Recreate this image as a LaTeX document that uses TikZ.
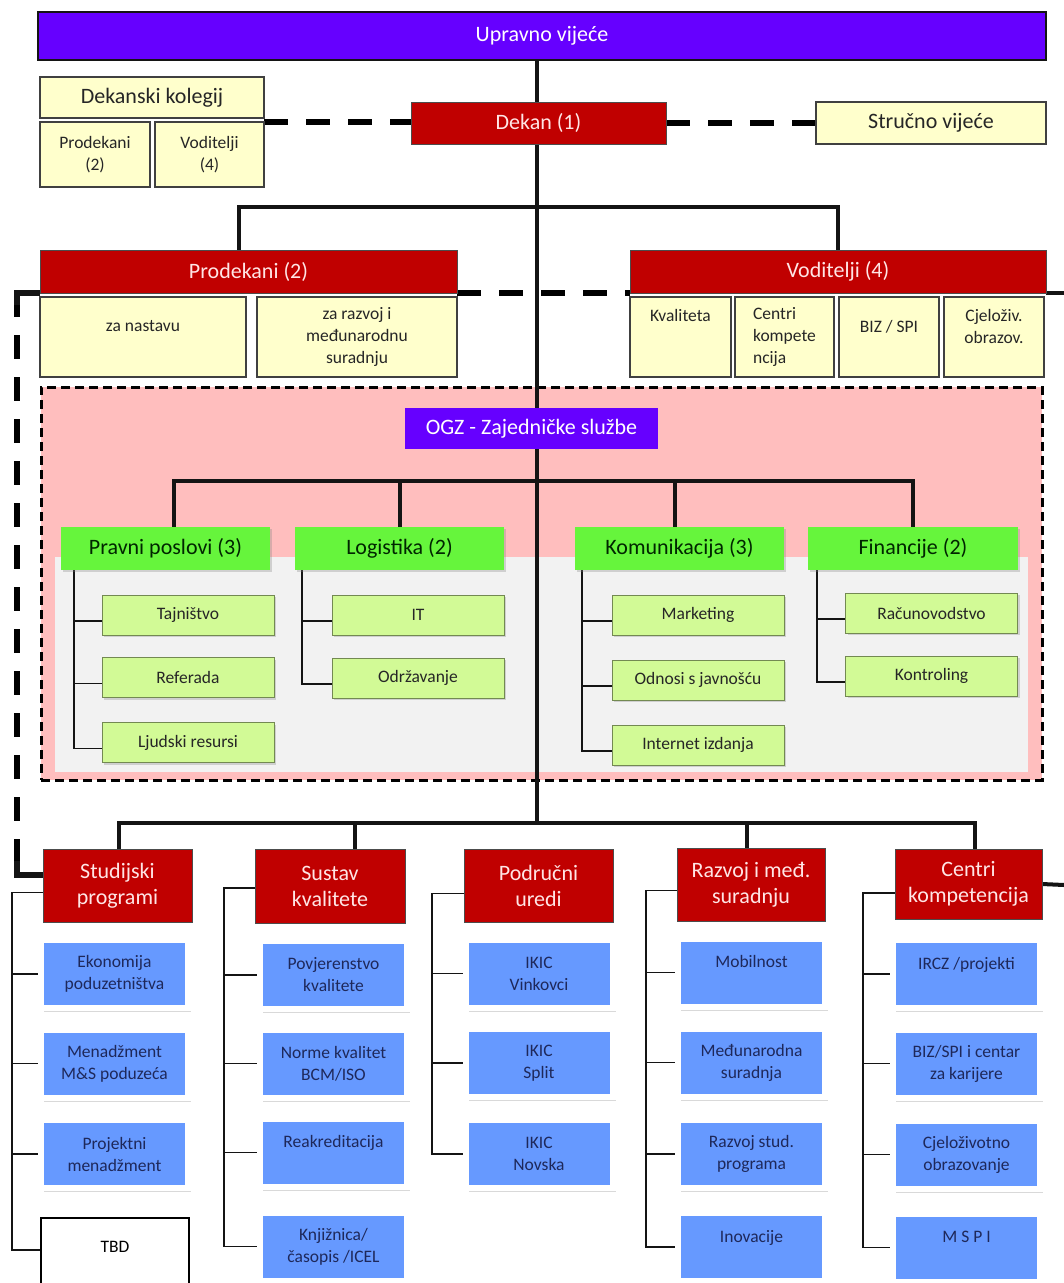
\documentclass[tikz,border=0pt]{standalone}
\usepackage{fontspec}
\setmainfont{Carlito}
\usetikzlibrary{positioning, shadows}
\definecolor{boardviolet}{RGB}{102, 0, 255}
\definecolor{deanred}{RGB}{192, 0, 0}
\definecolor{paleyellow}{RGB}{255, 255, 204}
\definecolor{ogzpink}{RGB}{255, 190, 190}
\definecolor{ogzgrey}{RGB}{242, 242, 242}
\definecolor{deptgreen}{RGB}{102, 245, 60}
\definecolor{unitgreen}{RGB}{210, 250, 150}
\definecolor{unitblue}{RGB}{102, 153, 255}
\definecolor{navytext}{RGB}{30, 40, 90}
\definecolor{linedark}{RGB}{20, 20, 20}

\newcommand{\bigtxt}{\fontsize{22}{26}\selectfont}
\newcommand{\smalltxt}{\fontsize{17.5}{22}\selectfont}

\pgfdeclarelayer{bg}
\pgfdeclarelayer{lines}
\pgfsetlayers{bg,lines,main}

\begin{document}
\begin{tikzpicture}[
    x=1pt, y=-1pt,
    plainbox/.style={rectangle, inner sep=2pt, outer sep=0pt, align=center},
    violetbar/.style={plainbox, draw=linedark, line width=2pt, fill=boardviolet, text=white, font=\bigtxt},
    redhead/.style={plainbox, draw=black!70, line width=1pt, fill=deanred, text=white!90!red, font=\bigtxt},
    yellowbox/.style={plainbox, draw=black!75, line width=1.5pt, fill=paleyellow, text=black!85, font=\smalltxt},
    greenhead/.style={plainbox, fill=deptgreen, text=black!85!green, font=\bigtxt, minimum width=209pt, minimum height=43pt, drop shadow={shadow xshift=2pt, shadow yshift=-2pt, opacity=0.3}},
    greensub/.style={plainbox, draw=black!45!unitgreen, line width=1pt, fill=unitgreen, text=black!85, font=\smalltxt, minimum width=172pt, minimum height=40pt, drop shadow={shadow xshift=2pt, shadow yshift=-2pt, opacity=0.3}},
    bluebox/.style={plainbox, draw=white, line width=6pt, fill=unitblue, text=navytext, font=\smalltxt, minimum width=147pt, minimum height=68pt, drop shadow={shadow xshift=3pt, shadow yshift=-4pt, opacity=0.3}},
    thickline/.style={draw=linedark, line width=4pt},
    treeline/.style={draw=linedark, line width=1.8pt},
    dashline/.style={draw=black, line width=6pt, dash pattern=on 24pt off 18pt},
]
\useasboundingbox (0,0) rectangle (1064,1283);
\clip (0,0) rectangle (1064,1283);

% Board and dean
\node[violetbar, minimum width=1008pt, minimum height=48pt] (upravno) at (542, 36) {Upravno vijeće};
\node[yellowbox, minimum width=224pt, minimum height=41pt, font=\bigtxt] (kolegij) at (152, 97.5) {Dekanski kolegij};
\node[yellowbox, minimum width=110pt, minimum height=65pt] (kprodekani) at (95, 154.5) {Prodekani\\(2)};
\node[yellowbox, minimum width=109pt, minimum height=65pt] (kvoditelji) at (209.5, 154.5) {Voditelji\\(4)};
\node[redhead, minimum width=255pt, minimum height=42pt] (dekan) at (538.5, 123) {Dekan (1)};
\node[yellowbox, minimum width=230pt, minimum height=42pt, font=\bigtxt] (strucno) at (931, 123) {Stručno vijeće};

% Prodekani and Voditelji
\node[redhead, minimum width=417pt, minimum height=43pt] (prodekani) at (248.5, 271.5) {Prodekani (2)};
\node[yellowbox, minimum width=206pt, minimum height=80pt] (nastava) at (143, 337) {za nastavu\\~};
\node[yellowbox, minimum width=200pt, minimum height=80pt] (razvojsur) at (357, 337) {za razvoj i\\međunarodnu\\suradnju};
\node[redhead, minimum width=416pt, minimum height=43pt] (voditelji) at (838, 271.5) {Voditelji (4)};
\node[yellowbox, minimum width=101pt, minimum height=80pt] (kvaliteta) at (680.5, 337) {Kvaliteta\\~\\~};
\node[yellowbox, minimum width=99pt, minimum height=80pt, align=left] (kompetencije) at (784.5, 337) {Centri\\kompete\\ncija};
\node[yellowbox, minimum width=100pt, minimum height=80pt] (bizspi) at (889, 337) {BIZ / SPI\\~};
\node[yellowbox, minimum width=100pt, minimum height=80pt] (cjelozivotno) at (994, 337) {Cjeloživ.\\obrazov.\\~};

% OGZ background
\begin{pgfonlayer}{bg}
\node[plainbox, draw=black, line width=3pt, dash pattern=on 9pt off 5pt, fill=ogzpink, minimum width=1001pt, minimum height=393pt] (ogzframe) at (541.5, 583.5) {};
\node[plainbox, fill=ogzgrey, minimum width=973pt, minimum height=215pt] (ogzinner) at (541.5, 664.5) {};
\end{pgfonlayer}

% OGZ services
\node[plainbox, fill=boardviolet, text=white, font=\bigtxt, minimum width=253pt, minimum height=41pt] (ogz) at (531.5, 428.5) {OGZ - Zajedničke službe};
\node[greenhead] (pravni) at (165.5, 548.5) {Pravni poslovi (3)};
\node[greenhead] (logistika) at (399.5, 548.5) {Logistika (2)};
\node[greenhead] (komunikacija) at (679.5, 548.5) {Komunikacija (3)};
\node[greenhead, minimum width=210pt] (financije) at (913, 548.5) {Financije (2)};

\node[greensub] (tajnistvo) at (188, 615) {Tajništvo};
\node[greensub] (referada) at (188, 677.5) {Referada};
\node[greensub] (ljudski) at (188, 742.5) {Ljudski resursi};
\node[greensub] (it) at (418, 615) {IT};
\node[greensub] (odrzavanje) at (418, 678) {Održavanje};
\node[greensub] (marketing) at (698, 615) {Marketing};
\node[greensub] (odnosi) at (698, 680) {Odnosi s javnošću};
\node[greensub] (internet) at (698, 745) {Internet izdanja};
\node[greensub] (racunovodstvo) at (931.5, 613) {Računovodstvo};
\node[greensub] (kontroling) at (931.5, 676) {Kontroling};

% Lower units
\node[redhead, minimum width=149pt, minimum height=73pt] (studijski) at (117.5, 885.5) {Studijski\\programi};
\node[redhead, minimum width=150pt, minimum height=74pt] (sustav) at (330, 886) {Sustav\\kvalitete};
\node[redhead, minimum width=149pt, minimum height=73pt] (podrucni) at (538.5, 885.5) {Područni\\uredi};
\node[redhead, minimum width=148pt, minimum height=73pt] (razvojmed) at (751, 884.5) {Razvoj i međ.\\suradnju};
\node[redhead, minimum width=147pt, minimum height=70pt] (centri) at (968.5, 884) {Centri\\kompetencija};

\node[bluebox] (ekonomija) at (114.5, 974) {Ekonomija\\poduzetništva};
\node[bluebox] (menadzment) at (114.5, 1063.5) {Menadžment\\M\&S poduzeća};
\node[bluebox] (projektni) at (114.5, 1154) {Projektni\\menadžment};
\node[plainbox, draw=black, line width=1.5pt, fill=white, font=\smalltxt, minimum width=148pt, minimum height=80pt] (tbd) at (115, 1258) {TBD\\~};

\node[bluebox] (povjerenstvo) at (333.5, 975) {Povjerenstvo\\kvalitete};
\node[bluebox] (norme) at (333.5, 1063.5) {Norme kvalitet\\BCM/ISO};
\node[bluebox] (reakreditacija) at (333.5, 1152.5) {Reakreditacija\\~};
\node[bluebox] (knjiznica) at (333.5, 1246.5) {Knjižnica/\\časopis /ICEL};

\node[bluebox] (vinkovci) at (539, 973.5) {IKIC\\Vinkovci};
\node[bluebox] (split) at (539, 1063) {IKIC\\Split};
\node[bluebox] (novska) at (539, 1154) {IKIC\\Novska};

\node[bluebox] (mobilnost) at (751.5, 972.5) {Mobilnost\\~};
\node[bluebox] (medjunarodna) at (751.5, 1062.5) {Međunarodna\\suradnja};
\node[bluebox] (studprog) at (751.5, 1154) {Razvoj stud.\\programa};
\node[bluebox] (inovacije) at (751.5, 1247) {Inovacije\\~};

\node[bluebox] (ircz) at (966.5, 974) {IRCZ /projekti\\~};
\node[bluebox] (karijere) at (966.5, 1063.5) {BIZ/SPI i centar\\za karijere};
\node[bluebox] (cjelozivobraz) at (966.5, 1154.5) {Cjeloživotno\\obrazovanje};
\node[bluebox] (mspi) at (966.5, 1247.5) {M S P I\\~};

% Connectors
\begin{pgfonlayer}{lines}
\coordinate (topbus) at (537, 207);
\coordinate (ogzbus) at (537, 481);
\coordinate (mainbus) at (537, 823);
\coordinate (leftcornerA) at (17, 293);
\coordinate (leftcornerB) at (17, 875);
\coordinate (rightedgeA) at (1064, 293);
\coordinate (rightedgeB) at (1064, 885);

\draw[thickline] (mainbus |- upravno.south) -- (mainbus);
\draw[thickline] ([xshift=-10pt]prodekani.north) |- (topbus) -| (voditelji.north);
\draw[dashline] (kvoditelji.north east) -- (kvoditelji.north east -| dekan.west);
\draw[dashline] (dekan.east) -- (strucno.west);
\draw[dashline] (prodekani.south east) -- (prodekani.south east -| voditelji.west);

% side links
\draw[dashline] (leftcornerA) -- (leftcornerB);
\draw[thickline, line width=6pt] (prodekani.south west) -- (leftcornerA) -- ++(0,12);
\draw[thickline, line width=6pt] (leftcornerB -| studijski.west) -- (leftcornerB) -- ++(0,-14);
\draw[thickline] (voditelji.south east) -- (rightedgeA);
\draw[thickline] (centri.east) -- (rightedgeB);

% OGZ tree
\draw[thickline] ([xshift=8.5pt]pravni.north) |- (ogzbus) -| (financije.north);
\draw[thickline] (logistika.north) -- (logistika.north |- ogzbus);
\draw[thickline] ([xshift=-4.5pt]komunikacija.north) -- ([xshift=-4.5pt]komunikacija.north |- ogzbus);
\foreach \n in {tajnistvo, referada, ljudski}
  \draw[treeline] ([xshift=13pt]pravni.south west) |- ([yshift=-6pt]\n.west);
\foreach \n in {it, odrzavanje}
  \draw[treeline] ([xshift=7pt]logistika.south west) |- ([yshift=-6pt]\n.west);
\foreach \n in {marketing, odnosi, internet}
  \draw[treeline] ([xshift=7pt]komunikacija.south west) |- ([yshift=-6pt]\n.west);
\foreach \n in {racunovodstvo, kontroling}
  \draw[treeline] ([xshift=9pt]financije.south west) |- ([yshift=-6pt]\n.west);

% lower tree
\draw[thickline] ([xshift=1.5pt]studijski.north) |- (mainbus) -| ([xshift=6.5pt]centri.north);
\draw[thickline] ([xshift=25pt]sustav.north) -- ([xshift=25pt]sustav.north |- mainbus);
\draw[thickline] ([xshift=-4pt]razvojmed.north) -- ([xshift=-4pt]razvojmed.north |- mainbus);
\foreach \n in {ekonomija, menadzment, projektni}
  \draw[treeline] ([yshift=-7pt]studijski.west) -- ++(-31,0) |- (\n.west);
\draw[treeline] ([yshift=-7pt]studijski.west) -- ++(-31,0) |- ([yshift=8pt]tbd.west);
\foreach \n in {povjerenstvo, norme, reakreditacija, knjiznica}
  \draw[treeline] ([yshift=-2pt]sustav.west) -- ++(-31,0) |- (\n.west);
\foreach \n in {vinkovci, split, novska}
  \draw[treeline] ([yshift=-8pt]podrucni.west) -- ++(-32,0) |- (\n.west);
\foreach \n in {mobilnost, medjunarodna, studprog, inovacije}
  \draw[treeline] ([yshift=-6pt]razvojmed.west) -- ++(-31,0) |- (\n.west);
\foreach \n in {ircz, karijere, cjelozivobraz, mspi}
  \draw[treeline] ([yshift=-9pt]centri.west) -- ++(-32,0) |- (\n.west);
\end{pgfonlayer}

\end{tikzpicture}
\end{document}
